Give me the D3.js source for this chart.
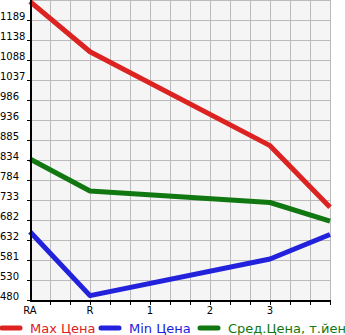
<!DOCTYPE html>
<html><head><meta charset="utf-8">
<script src="https://cdn.jsdelivr.net/npm/d3@7"></script>
<style>body{margin:0;background:#fff}svg{display:block}</style>
</head><body>
<script>
const categories = ["RA", "R", "1", "2", "3", ""];
const yTicks = [480, 530, 581, 632, 682, 733, 784, 834, 885, 936, 986, 1037, 1088, 1138, 1189];
const pointIdx = [0, 1, 4, 5];
const maxPrice = [1236, 1109, 871, 715];
const minPrice = [653, 491, 584, 646];
const avgPrice = [837, 756, 727, 680];
const seriesNames = ["Max Цена", "Min Цена", "Сред.Цена, т.йен"];
const colors = ["#dd2222", "#2222dd", "#117711"];

const W = 345, H = 335;
const svg = d3.select("body").append("svg").attr("width", W).attr("height", H);
const x = d3.scaleLinear().domain([0, 5]).range([30, 330]);
const y = d3.scaleLinear().domain([480, 1240]).range([300, 0]);

svg.append("rect").attr("x", 30).attr("y", 0).attr("width", 300).attr("height", 300).attr("fill", "#f5f5f5");
const g = svg.append("g");
// grid
const gx = d3.range(0, 5.01, 1/3);
g.selectAll(".vg").data(gx).enter().append("line")
  .attr("x1", d => x(d)).attr("x2", d => x(d)).attr("y1", 0).attr("y2", 300)
  .attr("stroke", "#bbbbbb").attr("stroke-width", 1).attr("shape-rendering", "crispEdges");
const gy = d3.range(0, 16).map(i => 480 + i * 760 / 15);
g.selectAll(".hg").data(gy).enter().append("line")
  .attr("x1", 30).attr("x2", 330).attr("y1", d => y(d)).attr("y2", d => y(d))
  .attr("stroke", "#bbbbbb").attr("stroke-width", 1).attr("shape-rendering", "crispEdges");

// lines
const series = [maxPrice, minPrice, avgPrice];
const line = d3.line().x(d => x(d[0])).y(d => y(d[1]));
series.forEach((s, i) => {
  svg.append("path").datum(pointIdx.map((p, j) => [p, s[j]]))
    .attr("d", line).attr("fill", "none").attr("stroke", colors[i])
    .attr("stroke-width", 5).attr("stroke-linejoin", "round");
});

// axes
svg.append("line").attr("x1", 31).attr("x2", 31).attr("y1", 0).attr("y2", 302).attr("stroke", "#000").attr("stroke-width", 2);
svg.append("line").attr("x1", 30).attr("x2", 331).attr("y1", 301).attr("y2", 301).attr("stroke", "#000").attr("stroke-width", 2);
// y ticks
svg.selectAll(".yt").data(yTicks).enter().append("line")
  .attr("x1", 27).attr("x2", 30).attr("y1", (d, i) => Math.round(y(480 + i * 760 / 15)) + 0.5).attr("y2", (d, i) => Math.round(y(480 + i * 760 / 15)) + 0.5)
  .attr("stroke", "#000");
svg.selectAll(".yl").data(yTicks).enter().append("text")
  .attr("x", 0).attr("y", (d, i) => y(480 + i * 760 / 15))
  .attr("font-family", "DejaVu Sans").attr("font-size", 10).attr("fill", "#000")
  .text(d => d);
// x ticks
svg.selectAll(".xt").data(gx.slice(1)).enter().append("line")
  .attr("x1", d => Math.round(x(d)) + 0.5).attr("x2", d => Math.round(x(d)) + 0.5).attr("y1", 302).attr("y2", 305)
  .attr("stroke", "#000");
svg.selectAll(".xl").data(categories).enter().append("text")
  .attr("x", (d, i) => x(i)).attr("y", 314).attr("text-anchor", "middle")
  .attr("font-family", "DejaVu Sans").attr("font-size", 10).attr("fill", "#000")
  .text(d => d);

// legend
const lx = [0, 99, 198];
seriesNames.forEach((n, i) => {
  svg.append("line").attr("x1", lx[i] + 2).attr("x2", lx[i] + 20).attr("y1", 328).attr("y2", 328)
    .attr("stroke", colors[i]).attr("stroke-width", 5).attr("stroke-linecap", "round");
  svg.append("text").attr("x", lx[i] + 30).attr("y", 333)
    .attr("font-family", "DejaVu Sans").attr("font-size", 13).attr("fill", colors[i]).text(n);
});
</script>
</body></html>
